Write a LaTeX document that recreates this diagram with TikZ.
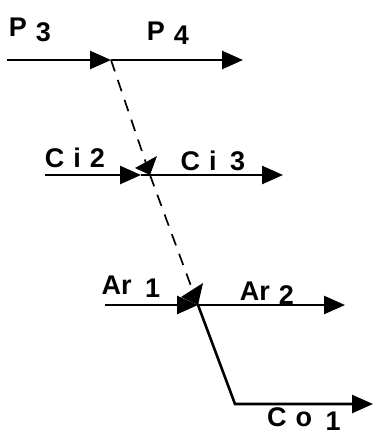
\documentclass[tikz,border=0pt]{standalone}
\usepackage{fontspec}
\setmainfont{Liberation Sans}
\usetikzlibrary{arrows.meta}
\begin{document}
\begin{tikzpicture}[x=1pt,y=-1pt,
  flow/.style={line width=2.6pt,-{Triangle[length=21pt,width=18pt]}},
  link/.style={line width=2.6pt},
  dashlink/.style={line width=1.7pt,dash pattern=on 12pt off 9pt},
  tickmark/.style={fill=black},
  lbl/.style={font=\fontsize{27}{30}\selectfont\bfseries,inner sep=0pt}
]
\useasboundingbox (0,0) rectangle (374,439);
% coordinates
\coordinate (a1) at (7,60);
\coordinate (j1) at (111,60);
\coordinate (e1) at (243,60);
\coordinate (a2) at (45,175);
\coordinate (m2) at (141,175);
\coordinate (j2) at (150,175);
\coordinate (e2) at (283,175);
\coordinate (a3) at (105,305);
\coordinate (j3) at (198,305);
\coordinate (e3) at (345,305);
\coordinate (c) at (235,404);
\coordinate (e4) at (373,404);
% flows
\draw[flow] (a1) -- (j1);
\draw[flow] (j1) -- (e1);
\draw[flow] (a2) -- (m2);
\draw[link] (m2) -- (j2);
\draw[flow] (j2) -- (e2);
\draw[flow] (a3) -- (j3);
\draw[flow] (j3) -- (e3);
\draw[flow] (j3) -- (c) -- (e4);
% dashed links
\draw[dashlink] (j1) -- (j2);
\draw[dashlink] (j2) -- (j3);
% small marks
\fill[tickmark] (135,168) -- (157,156) -- (150,175) -- cycle;
\fill[tickmark] (181,297) -- (203,283) -- (198,305) -- cycle;
% labels
\node[lbl] (p3) at (30,30) {P\,\,\raisebox{-0.3ex}{3}};
\node[lbl] (p4) at (168,33) {P\,\,\raisebox{-0.3ex}{4}};
\node[lbl] (ci2) at (75,158) {C\,\,i\,\,2};
\node[lbl] (ci3) at (213,161) {C\,\,i\,\,\,3};
\node[lbl] (ar1) at (131,287) {Ar\,\,\,\raisebox{-0.2ex}{1}};
\node[lbl] (ar2) at (267,293) {Ar\,\,\raisebox{-0.3ex}{2}};
\node[lbl] (co1) at (304,419) {C\,\,o\,\,\,\raisebox{-0.3ex}{1}};
\end{tikzpicture}
\end{document}
